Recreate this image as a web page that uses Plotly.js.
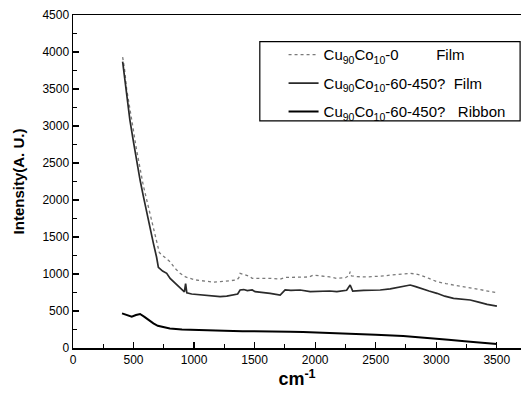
<!DOCTYPE html>
<html><head><meta charset="utf-8">
<script src="https://cdn.plot.ly/plotly-3.0.1.min.js"></script>
<style>html,body{margin:0;padding:0;background:#fff}#chart{width:525px;height:393px}</style>
</head><body><div id="chart"></div>
<script>
const names = [
  "Cu<sub>90</sub>Co<sub>10</sub>-0\u00a0\u00a0\u00a0\u00a0\u00a0\u00a0\u00a0\u00a0\u00a0Film",
  "Cu<sub>90</sub>Co<sub>10</sub>-60-450?\u00a0\u00a0Film",
  "Cu<sub>90</sub>Co<sub>10</sub>-60-450?\u00a0\u00a0\u00a0Ribbon"
];
const xFilm0 = [410,425,443,470,498,525,554,580,609,637,664,690,713,740,770,802,840,884,930,967,1010,1060,1110,1160,1215,1260,1300,1353,1370,1380,1420,1463,1480,1550,1630,1711,1752,1800,1876,1950,1986,2050,2120,2179,2250,2280,2289,2300,2344,2420,2500,2537,2580,2620,2700,2785,2830,2868,2940,3006,3080,3143,3210,3281,3350,3420,3501];
const yFilm0 = [3930,3780,3500,3200,2950,2680,2400,2200,2000,1800,1600,1430,1290,1250,1210,1166,1080,1010,960,941,920,910,905,890,896,905,910,919,950,1009,990,964,941,941,941,930,955,955,955,960,986,975,960,941,950,980,1031,975,964,960,964,964,975,986,1000,1009,1000,986,940,896,870,851,830,806,790,770,748];
const xFilm450 = [410,425,443,470,498,525,554,580,609,637,664,690,705,740,774,802,840,884,920,930,940,980,1050,1110,1160,1215,1270,1322,1360,1380,1410,1440,1480,1504,1560,1628,1711,1752,1800,1876,1959,2050,2120,2179,2260,2289,2310,2400,2470,2537,2620,2680,2730,2785,2830,2868,2940,3006,3070,3143,3210,3281,3350,3420,3501];
const yFilm450 = [3870,3660,3380,3080,2800,2530,2270,2060,1820,1620,1414,1230,1090,1040,1009,941,880,820,760,870,745,730,720,710,705,693,700,716,730,784,790,775,784,761,755,739,716,784,780,784,761,765,770,761,780,851,770,780,784,784,800,815,829,851,830,806,770,739,700,671,660,649,620,590,567];
const xRibbon = [405,440,485,520,554,590,630,664,700,747,800,900,1000,1100,1250,1400,1550,1650,1700,1750,1793,1900,2000,2179,2350,2500,2727,2900,3100,3281,3400,3501];
const yRibbon = [468,450,423,445,459,420,370,333,300,280,265,250,243,238,232,228,226,232,224,230,221,215,210,203,190,180,162,135,110,86,70,54];

const traces = [
  {x:xFilm0, y:yFilm0, name:names[0], legendgroup:'a', mode:'lines', line:{color:'#7a7a7a', width:1.3, dash:'dot'}},
  {x:xFilm450, y:yFilm450, name:names[1], legendgroup:'b', mode:'lines', line:{color:'#2a2a2a', width:1.7}},
  {x:xRibbon, y:yRibbon, name:names[2], legendgroup:'c', mode:'lines', line:{color:'#000000', width:2}}
];
const axisFont = {family:'Liberation Sans, Arial, sans-serif', size:12, color:'#000'};
const layout = {
  width:525, height:393,
  margin:{l:73, r:4, t:15, b:45},
  paper_bgcolor:'#fff', plot_bgcolor:'#fff',
  showlegend:true,
  legend:{x:0.47, y:0.93, xanchor:'left', yanchor:'top', bgcolor:'rgba(0,0,0,0)',
    traceorder:'grouped', tracegroupgap:6,
    font:{family:'Liberation Sans, Arial, sans-serif', size:15, color:'#000'}},
  xaxis:{range:[0,3700], tick0:0, dtick:500, ticks:'inside', ticklen:6, tickwidth:1.2, tickcolor:'#000',
    minor:{dtick:250, ticks:'inside', ticklen:4, tickcolor:'#000', tickwidth:1},
    showgrid:false, zeroline:false, showline:true, linecolor:'#000', linewidth:1.5, mirror:true,
    tickfont:axisFont,
    title:{text:'<b>cm<sup>-1</sup></b>', font:{family:'Liberation Sans, Arial, sans-serif', size:18, color:'#000'}, standoff:6}},
  yaxis:{range:[0,4500], tick0:0, dtick:500, ticks:'inside', ticklen:6, tickwidth:1.2, tickcolor:'#000',
    minor:{dtick:250, ticks:'inside', ticklen:4, tickcolor:'#000', tickwidth:1},
    showgrid:false, zeroline:false, showline:true, linecolor:'#000', linewidth:1.5,
    tickfont:axisFont,
    title:{text:'<b>Intensity(A. U.)</b>', font:{family:'Liberation Sans, Arial, sans-serif', size:15, color:'#000'}, standoff:14}},
  shapes:[{type:'rect', xref:'paper', yref:'paper', x0:0.417, x1:0.998, y0:0.682, y1:0.92, line:{color:'#000', width:1.2}, fillcolor:'rgba(0,0,0,0)'}]
};
Plotly.newPlot('chart', traces, layout, {displayModeBar:false, staticPlot:true});
</script></body></html>
